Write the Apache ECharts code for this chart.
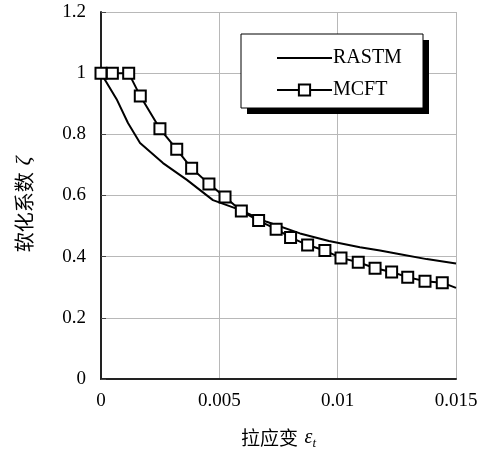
<!DOCTYPE html>
<html><head><meta charset="utf-8">
<script src="https://cdn.jsdelivr.net/npm/echarts@6/dist/echarts.min.js"></script>
<style>html,body{margin:0;padding:0;background:#fff}#c{width:481px;height:450px}</style>
</head><body><div id="c"></div>
<script>
const rastmX = [0, 0.00066, 0.00114, 0.00165, 0.00262, 0.00363, 0.00473, 0.00587, 0.0070, 0.00841, 0.00963, 0.01094, 0.01179, 0.01264, 0.01376, 0.015];
const rastmY = [1.0, 0.915, 0.837, 0.772, 0.706, 0.651, 0.585, 0.553, 0.514, 0.476, 0.451, 0.431, 0.420, 0.408, 0.392, 0.378];
const mcftX = [0, 0.00048, 0.00117, 0.00166, 0.00249, 0.0032, 0.00383, 0.00456, 0.00524, 0.00593, 0.00666, 0.0074, 0.00801, 0.00873, 0.00946, 0.01014, 0.01087, 0.01158, 0.01228, 0.01296, 0.01369, 0.01442];
const mcftY = [1.0, 1.0, 1.0, 0.925, 0.818, 0.751, 0.689, 0.638, 0.595, 0.549, 0.518, 0.490, 0.463, 0.438, 0.420, 0.396, 0.382, 0.362, 0.350, 0.333, 0.320, 0.315];
// line continues (without marker) to the right edge
const mcftTailX = [0.015];
const mcftTailY = [0.298];
const seriesNames = ['RASTM', 'MCFT'];
const xName = '拉应变';
const yName = '软化系数';

const serif = '"Liberation Serif", "Times New Roman", serif';
const cjk = '"Noto Sans CJK SC", sans-serif';

const rastmData = rastmX.map((x, i) => [x, rastmY[i]]);
const mcftData = mcftX.map((x, i) => [x, mcftY[i]]).concat(
  mcftTailX.map((x, i) => ({ value: [x, mcftTailY[i]], symbol: 'none' })));

const chart = echarts.init(document.getElementById('c'), null, { renderer: 'canvas' });
chart.setOption({
  backgroundColor: '#fff',
  animation: false,
  grid: { left: 101, top: 12, width: 355, height: 367, containLabel: false, outerBoundsMode: 'none' },
  graphic: [
    { type: 'rect', shape: { x: 247, y: 40, width: 182, height: 74 }, style: { fill: '#000' }, z: 10 },
    { type: 'rect', shape: { x: 241, y: 34, width: 182, height: 74 }, style: { fill: '#fff', stroke: '#000', lineWidth: 1 }, z: 11 }
  ],
  legend: {
    orient: 'vertical', left: 276, top: 48, z: 20,
    itemWidth: 55, itemHeight: 14, itemGap: 12, padding: 0,
    textStyle: { fontFamily: serif, fontSize: 20, color: '#000', padding: [0, 0, 0, -4] },
    data: [
      { name: seriesNames[0], itemStyle: { color: 'rgba(0,0,0,0)', borderColor: 'rgba(0,0,0,0)', borderWidth: 0, opacity: 0 } },
      { name: seriesNames[1] }
    ]
  },
  xAxis: {
    type: 'value', min: 0, max: 0.015, interval: 0.005,
    name: '{c|' + xName + '}  {e|ε}{t|t}', nameLocation: 'middle', nameGap: 46,
    nameTextStyle: {
      rich: {
        c: { fontFamily: cjk, fontSize: 19, color: '#000' },
        e: { fontFamily: serif, fontStyle: 'italic', fontSize: 20, color: '#000' },
        t: { fontFamily: serif, fontStyle: 'italic', fontSize: 13, color: '#000', padding: [12, 0, 0, 0] }
      }
    },
    axisLine: { show: true, onZero: false, lineStyle: { color: '#222', width: 2 } },
    axisTick: { show: false },
    axisLabel: { fontFamily: serif, fontSize: 19, color: '#000', margin: 13 },
    splitLine: { show: true, lineStyle: { color: '#b8b8b8', width: 1 } }
  },
  yAxis: {
    type: 'value', min: 0, max: 1.2, interval: 0.2,
    name: '{c|' + yName + '}  {z|ζ}', nameLocation: 'middle', nameGap: 66, nameRotate: 90,
    nameTextStyle: {
      padding: [0, 18, 0, 0],
      rich: {
        c: { fontFamily: cjk, fontSize: 20, color: '#000' },
        z: { fontFamily: serif, fontStyle: 'italic', fontSize: 22, color: '#000' }
      }
    },
    axisLine: { show: true, onZero: false, lineStyle: { color: '#222', width: 2 } },
    axisTick: { show: true, inside: true, length: 5, lineStyle: { color: '#444', width: 1 } },
    axisLabel: { fontFamily: serif, fontSize: 19, color: '#000', margin: 15, padding: [4, 0, 0, 0] },
    splitLine: { show: true, lineStyle: { color: '#b8b8b8', width: 1 } }
  },
  series: [
    {
      name: seriesNames[0], type: 'line', data: rastmData, symbol: 'none',
      lineStyle: { color: '#000', width: 2 }, itemStyle: { color: '#000' }, z: 3
    },
    {
      name: seriesNames[1], type: 'line', data: mcftData, symbol: 'rect', symbolSize: 11,
      showAllSymbol: true,
      lineStyle: { color: '#000', width: 2 },
      itemStyle: { color: '#fff', borderColor: '#000', borderWidth: 2 }, z: 4
    }
  ]
});
</script></body></html>
